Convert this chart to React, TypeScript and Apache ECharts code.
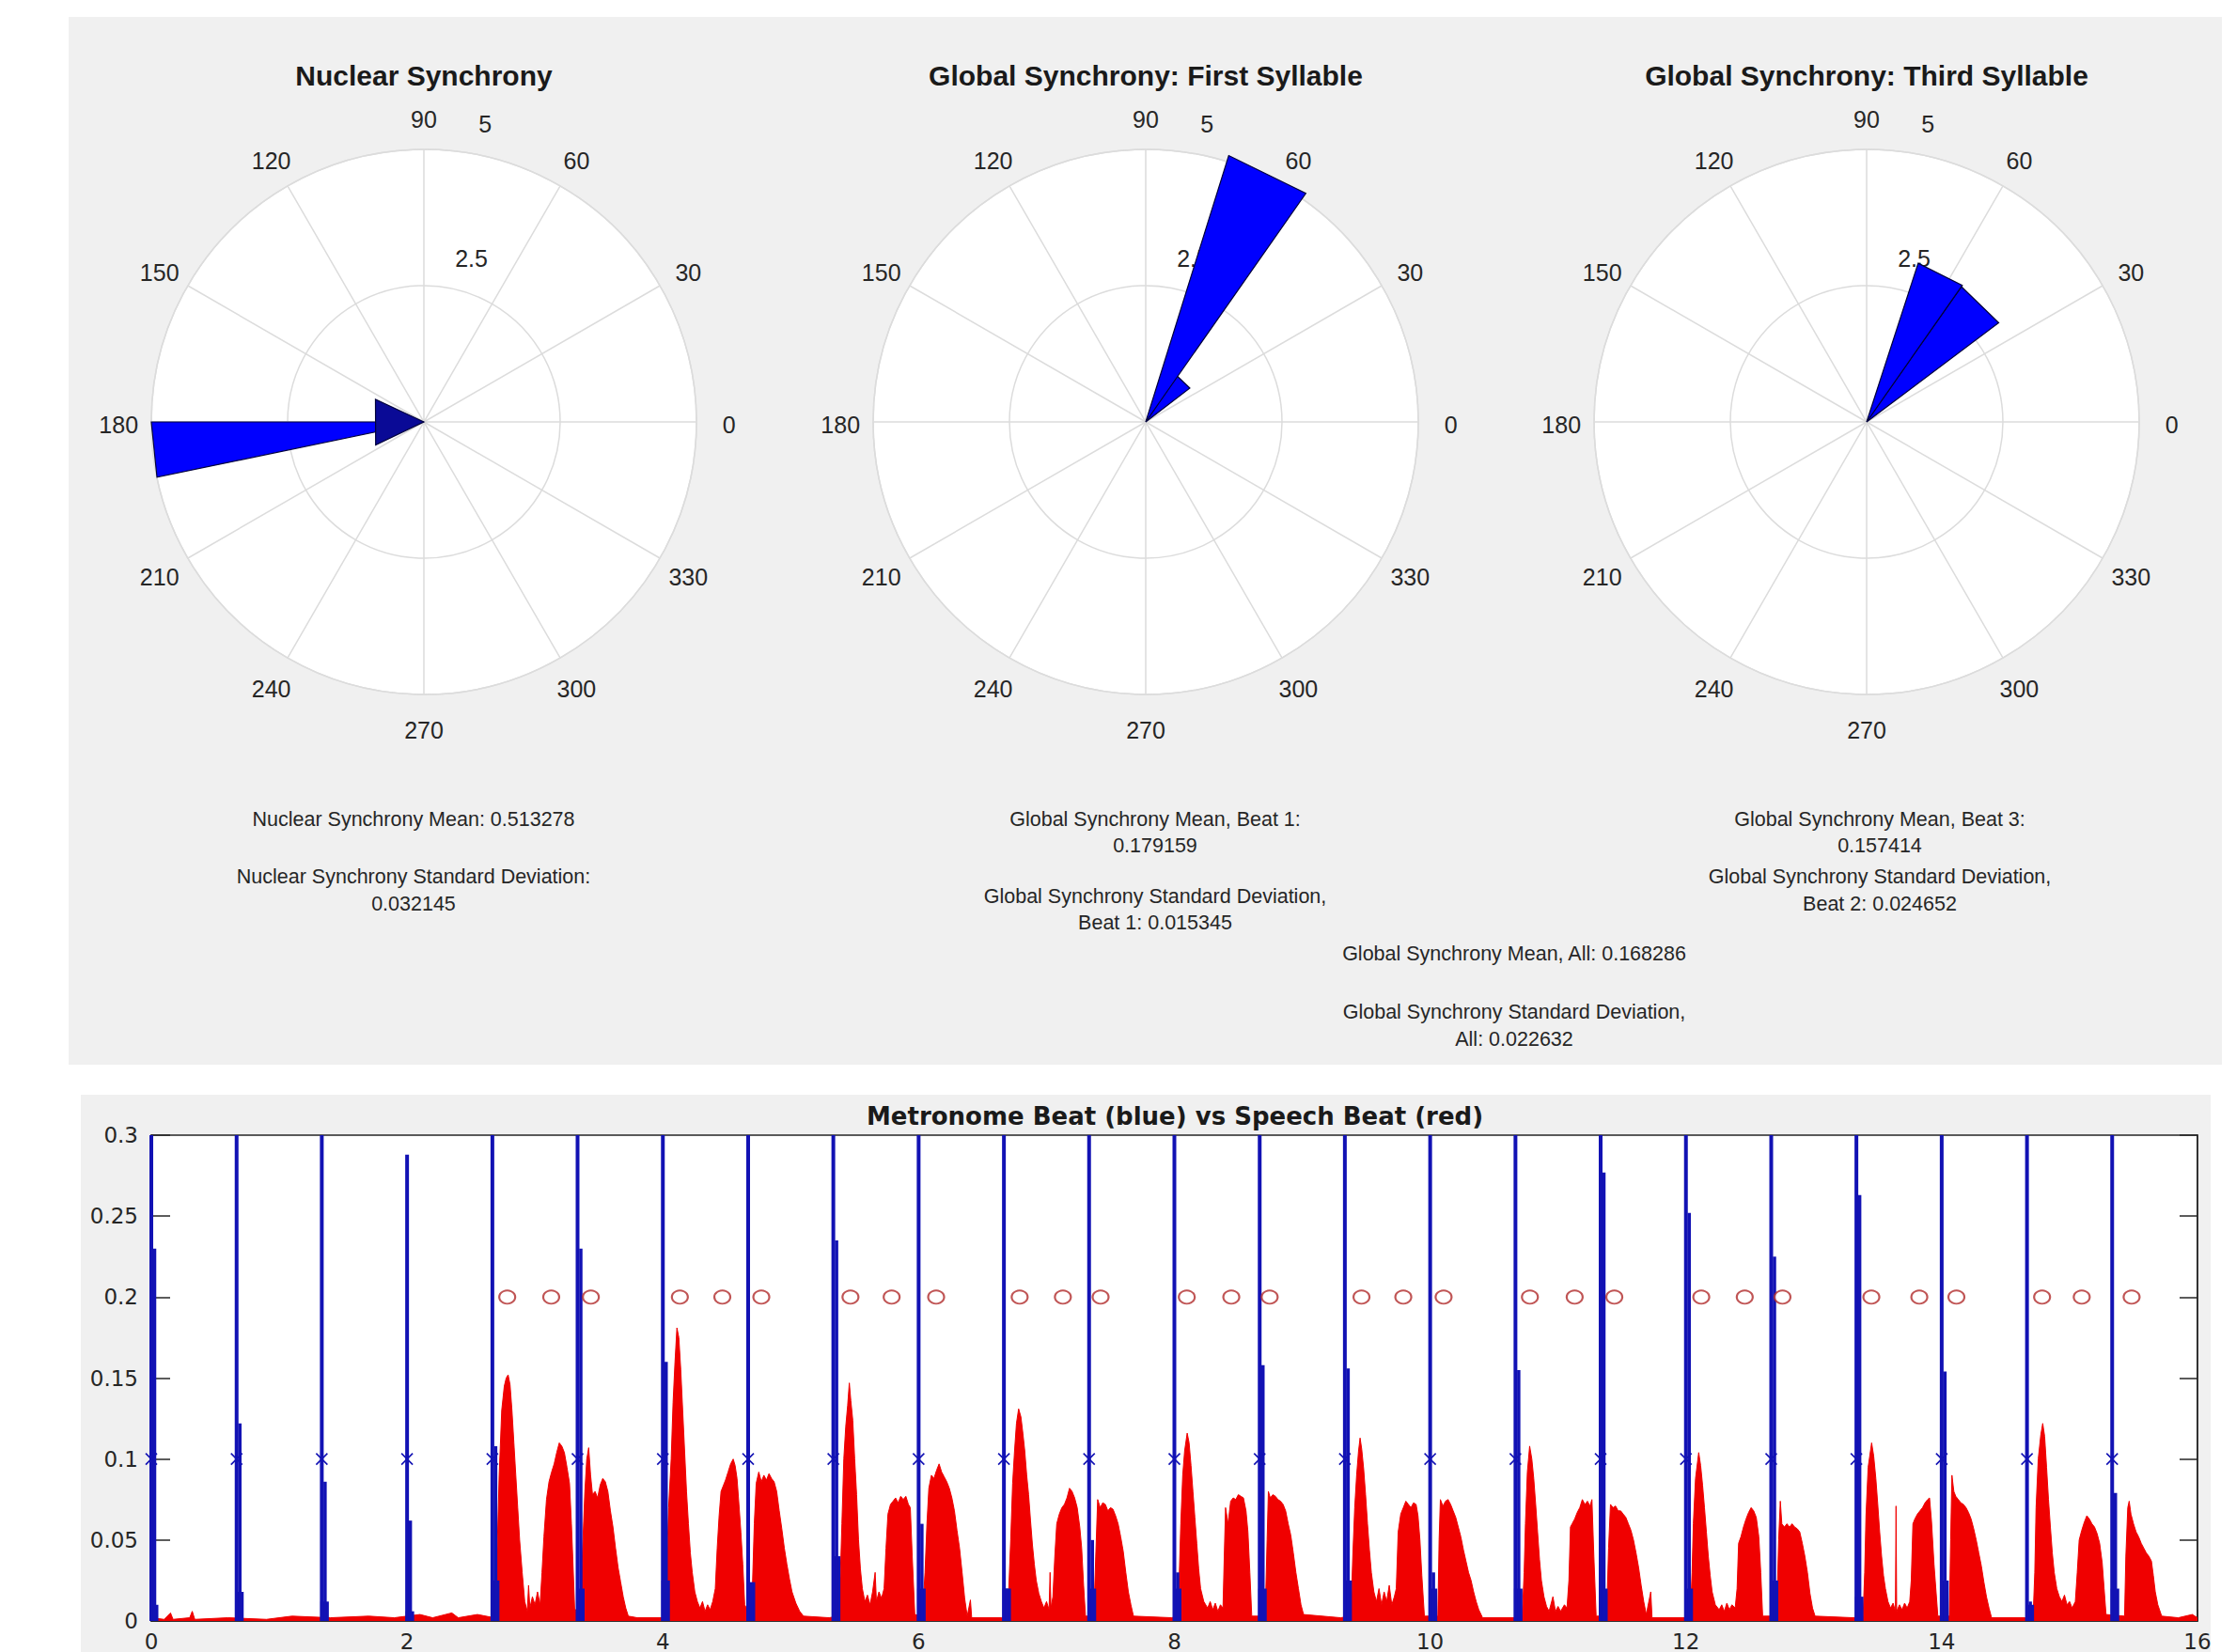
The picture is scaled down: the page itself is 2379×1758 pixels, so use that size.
import React, { useEffect, useRef } from "react";
import * as echarts from "echarts";

// ---------- Top panel: rose plots ----------
const angleTicks = [0, 30, 60, 90, 120, 150, 180, 210, 240, 270, 300, 330];
const radiusTicks = [2.5, 5];
const roseTitles = [
  "Nuclear Synchrony",
  "Global Synchrony: First Syllable",
  "Global Synchrony: Third Syllable",
];
// each bin: [radius, startAngle, endAngle]
const nuclearBins = [[5.0, 180, 191.7]];
const nuclearCoreBins = [[0.98, 155, 205.5]];
const firstSyllableBins = [
  [1.02, 37.5, 55.5],
  [5.12, 55, 72.7],
];
const thirdSyllableBins = [
  [3.03, 36.9, 55],
  [3.06, 55, 72],
];

const nuclearStats = [
  "Nuclear Synchrony Mean: 0.513278",
  "Nuclear Synchrony Standard Deviation:",
  "0.032145",
];
const firstSyllableStats = [
  "Global Synchrony Mean, Beat 1:",
  "0.179159",
  "Global Synchrony Standard Deviation,",
  "Beat 1: 0.015345",
];
const thirdSyllableStats = [
  "Global Synchrony Mean, Beat 3:",
  "0.157414",
  "Global Synchrony Standard Deviation,",
  "Beat 2: 0.024652",
];
const overallStats = [
  "Global Synchrony Mean, All: 0.168286",
  "Global Synchrony Standard Deviation,",
  "All: 0.022632",
];

// ---------- Bottom panel: metronome vs speech ----------
const chartTitle = "Metronome Beat (blue) vs Speech Beat (red)";
const beatTimes = [
  0, 0.667, 1.333, 2, 2.667, 3.333, 4, 4.667, 5.333, 6, 6.667, 7.333, 8,
  8.667, 9.333, 10, 10.667, 11.333, 12, 12.667, 13.333, 14, 14.667, 15.333,
];
const beatPeaks = [
  0.3, 0.3, 0.3, 0.288, 0.3, 0.3, 0.3, 0.3, 0.3, 0.3, 0.3, 0.3, 0.3, 0.3,
  0.3, 0.3, 0.3, 0.3, 0.3, 0.3, 0.3, 0.3, 0.3, 0.3,
];
const beatEchoes = [
  0.23, 0.122, 0.086, 0.062, 0.108, 0.23, 0.16, 0.023, 0.235, 0.06, 0.02,
  0.05, 0.03, 0.158, 0.156, 0.03, 0.155, 0.277, 0.252, 0.225, 0.263, 0.154,
  0.012, 0.079,
];
const beatBases = [
  0.01, 0.018, 0.012, 0.006, 0.025, 0.02, 0.025, 0.024, 0.04, 0.02, 0.02,
  0.02, 0.02, 0.02, 0.025, 0.02, 0.02, 0.02, 0.02, 0.025, 0.015, 0.025, 0.01,
  0.02,
];
const beatMarkerLevel = 0.1;
const syllableTimes = [
  2.783, 3.127, 3.437, 4.133, 4.465, 4.77, 5.467, 5.789, 6.137, 6.79, 7.128,
  7.423, 8.097, 8.445, 8.745, 9.463, 9.79, 10.105, 10.78, 11.13, 11.44, 12.12,
  12.46, 12.755, 13.45, 13.825, 14.115, 14.785, 15.095, 15.485,
];
const syllableMarkerLevel = 0.2;

const leadIn = [
  [0, 0.002], [0.1, 0.001], [0.15, 0.005], [0.17, 0.001], [0.3, 0.002],
  [0.32, 0.006], [0.34, 0.001], [0.6, 0.002], [0.9, 0.001], [1.1, 0.003],
  [1.4, 0.002], [1.7, 0.003], [1.9, 0.002], [2.1, 0.004], [2.2, 0.002],
  [2.35, 0.005], [2.4, 0.002], [2.55, 0.004], [2.68, 0.002],
];
const phrase1 = [
  [2.69, 0.003], [2.7, 0.03], [2.72, 0.09], [2.74, 0.13], [2.76, 0.145],
  [2.775, 0.15], [2.79, 0.152], [2.805, 0.146], [2.82, 0.13], [2.835, 0.11],
  [2.85, 0.09], [2.865, 0.07], [2.88, 0.05], [2.9, 0.03], [2.92, 0.012],
  [2.94, 0.006], [2.95, 0.022], [2.96, 0.008], [2.98, 0.015], [3.0, 0.01],
  [3.02, 0.018], [3.04, 0.01], [3.055, 0.03], [3.07, 0.052], [3.09, 0.075],
  [3.11, 0.086], [3.13, 0.092], [3.15, 0.097], [3.17, 0.104], [3.19, 0.11],
  [3.21, 0.108], [3.23, 0.104], [3.25, 0.095], [3.27, 0.085], [3.285, 0.06],
  [3.295, 0.04], [3.31, 0.008], [3.34, 0.003], [3.36, 0.02], [3.375, 0.05],
  [3.39, 0.08], [3.405, 0.1], [3.42, 0.107], [3.435, 0.09], [3.45, 0.078],
  [3.47, 0.08], [3.49, 0.076], [3.51, 0.084], [3.53, 0.088], [3.55, 0.086],
  [3.57, 0.08], [3.59, 0.068], [3.61, 0.058], [3.63, 0.045], [3.65, 0.033],
  [3.67, 0.024], [3.69, 0.015], [3.71, 0.008], [3.73, 0.003], [3.8, 0.002],
  [4.0, 0.002],
];
const phrase2 = [
  [4.01, 0.003], [4.025, 0.02], [4.045, 0.07], [4.065, 0.1], [4.08, 0.135],
  [4.095, 0.16], [4.11, 0.181], [4.125, 0.175], [4.14, 0.155], [4.155, 0.13],
  [4.17, 0.105], [4.185, 0.08], [4.2, 0.06], [4.215, 0.042], [4.23, 0.03],
  [4.25, 0.018], [4.27, 0.012], [4.29, 0.008], [4.31, 0.012], [4.33, 0.006],
  [4.35, 0.01], [4.37, 0.007], [4.39, 0.012], [4.41, 0.02], [4.425, 0.045],
  [4.44, 0.065], [4.455, 0.08], [4.47, 0.083], [4.49, 0.087], [4.51, 0.092],
  [4.53, 0.097], [4.55, 0.1], [4.565, 0.096], [4.58, 0.088], [4.595, 0.072],
  [4.61, 0.055], [4.625, 0.035], [4.64, 0.01], [4.68, 0.004], [4.7, 0.02],
  [4.715, 0.06], [4.73, 0.085], [4.75, 0.092], [4.77, 0.086], [4.79, 0.09],
  [4.81, 0.087], [4.83, 0.091], [4.85, 0.088], [4.87, 0.086], [4.89, 0.08],
  [4.91, 0.068], [4.93, 0.057], [4.95, 0.045], [4.97, 0.035], [4.99, 0.026],
  [5.01, 0.018], [5.04, 0.011], [5.07, 0.006], [5.1, 0.003], [5.3, 0.002],
];
const phrase3 = [
  [5.37, 0.003], [5.385, 0.02], [5.4, 0.06], [5.415, 0.1], [5.43, 0.12],
  [5.445, 0.133], [5.458, 0.147], [5.47, 0.136], [5.485, 0.124], [5.5, 0.1],
  [5.515, 0.078], [5.53, 0.05], [5.545, 0.032], [5.56, 0.02], [5.58, 0.012],
  [5.6, 0.016], [5.62, 0.01], [5.64, 0.018], [5.66, 0.03], [5.67, 0.012],
  [5.69, 0.018], [5.71, 0.014], [5.73, 0.02], [5.745, 0.045], [5.76, 0.066],
  [5.78, 0.072], [5.8, 0.074], [5.82, 0.076], [5.84, 0.073], [5.86, 0.077],
  [5.88, 0.075], [5.9, 0.077], [5.92, 0.072], [5.935, 0.07], [5.95, 0.04],
  [5.97, 0.004], [6.03, 0.003], [6.05, 0.03], [6.065, 0.06], [6.08, 0.082],
  [6.1, 0.09], [6.12, 0.088], [6.14, 0.093], [6.16, 0.097], [6.18, 0.092],
  [6.2, 0.089], [6.22, 0.086], [6.24, 0.082], [6.26, 0.076], [6.28, 0.068],
  [6.3, 0.056], [6.32, 0.045], [6.34, 0.03], [6.36, 0.014], [6.38, 0.003],
  [6.405, 0.013], [6.415, 0.002], [6.65, 0.002],
];
const phrase4 = [
  [6.69, 0.003], [6.705, 0.02], [6.72, 0.05], [6.735, 0.085], [6.75, 0.105],
  [6.765, 0.122], [6.782, 0.131], [6.8, 0.126], [6.815, 0.116], [6.83, 0.105],
  [6.845, 0.09], [6.86, 0.078], [6.875, 0.062], [6.89, 0.047], [6.905, 0.035],
  [6.92, 0.025], [6.94, 0.017], [6.96, 0.012], [6.98, 0.008], [7.0, 0.012],
  [7.02, 0.007], [7.028, 0.03], [7.035, 0.008], [7.05, 0.015], [7.065, 0.04],
  [7.08, 0.06], [7.1, 0.066], [7.12, 0.07], [7.14, 0.072], [7.16, 0.076],
  [7.18, 0.082], [7.2, 0.08], [7.22, 0.076], [7.24, 0.07], [7.26, 0.058],
  [7.275, 0.045], [7.29, 0.022], [7.305, 0.003], [7.37, 0.003], [7.385, 0.04],
  [7.4, 0.075], [7.42, 0.07], [7.44, 0.073], [7.46, 0.072], [7.48, 0.068],
  [7.5, 0.07], [7.52, 0.069], [7.54, 0.065], [7.56, 0.06], [7.58, 0.052],
  [7.6, 0.043], [7.62, 0.03], [7.64, 0.018], [7.66, 0.01], [7.68, 0.003],
  [7.98, 0.002],
];
const phrase5 = [
  [8.02, 0.003], [8.035, 0.02], [8.05, 0.06], [8.065, 0.09], [8.08, 0.105],
  [8.1, 0.116], [8.115, 0.11], [8.13, 0.096], [8.145, 0.08], [8.16, 0.064],
  [8.175, 0.048], [8.19, 0.032], [8.205, 0.02], [8.23, 0.012], [8.26, 0.008],
  [8.28, 0.012], [8.3, 0.007], [8.32, 0.011], [8.34, 0.006], [8.36, 0.01],
  [8.38, 0.008], [8.39, 0.04], [8.4, 0.07], [8.42, 0.06], [8.44, 0.074],
  [8.46, 0.076], [8.48, 0.075], [8.5, 0.078], [8.52, 0.077], [8.54, 0.076],
  [8.56, 0.068], [8.575, 0.055], [8.59, 0.03], [8.605, 0.003], [8.71, 0.003],
  [8.725, 0.05], [8.735, 0.08], [8.75, 0.076], [8.77, 0.078], [8.79, 0.077],
  [8.81, 0.075], [8.83, 0.074], [8.85, 0.072], [8.87, 0.068], [8.89, 0.06],
  [8.91, 0.053], [8.93, 0.042], [8.95, 0.03], [8.97, 0.02], [8.99, 0.01],
  [9.01, 0.004], [9.3, 0.002],
];
const phrase6 = [
  [9.38, 0.003], [9.395, 0.04], [9.41, 0.07], [9.425, 0.09], [9.44, 0.105],
  [9.452, 0.113], [9.465, 0.106], [9.48, 0.094], [9.495, 0.078], [9.51, 0.06],
  [9.525, 0.044], [9.54, 0.03], [9.56, 0.018], [9.58, 0.012], [9.6, 0.02],
  [9.62, 0.01], [9.64, 0.018], [9.66, 0.012], [9.68, 0.022], [9.7, 0.01],
  [9.72, 0.015], [9.735, 0.02], [9.75, 0.055], [9.77, 0.066], [9.79, 0.07],
  [9.81, 0.074], [9.83, 0.072], [9.85, 0.07], [9.87, 0.073], [9.89, 0.072],
  [9.905, 0.065], [9.92, 0.05], [9.935, 0.028], [9.955, 0.003], [10.06, 0.003],
  [10.07, 0.05], [10.08, 0.075], [10.1, 0.071], [10.12, 0.074], [10.14, 0.075],
  [10.16, 0.072], [10.18, 0.068], [10.2, 0.064], [10.22, 0.058], [10.24, 0.052],
  [10.26, 0.044], [10.28, 0.037], [10.3, 0.03], [10.32, 0.025], [10.34, 0.018],
  [10.36, 0.012], [10.38, 0.007], [10.41, 0.002], [10.65, 0.002],
];
const phrase7 = [
  [10.72, 0.003], [10.735, 0.03], [10.745, 0.06], [10.76, 0.092],
  [10.778, 0.108], [10.795, 0.1], [10.81, 0.088], [10.825, 0.072],
  [10.84, 0.055], [10.855, 0.038], [10.87, 0.025], [10.89, 0.015],
  [10.91, 0.009], [10.93, 0.006], [10.96, 0.015], [10.98, 0.006], [11.0, 0.009],
  [11.02, 0.006], [11.05, 0.01], [11.07, 0.008], [11.085, 0.025],
  [11.097, 0.058], [11.11, 0.06], [11.13, 0.063], [11.15, 0.067], [11.17, 0.07],
  [11.19, 0.075], [11.21, 0.072], [11.23, 0.074], [11.25, 0.071],
  [11.265, 0.075], [11.28, 0.04], [11.298, 0.003], [11.38, 0.003],
  [11.395, 0.045], [11.41, 0.072], [11.43, 0.07], [11.45, 0.071], [11.47, 0.068],
  [11.49, 0.068], [11.51, 0.066], [11.53, 0.064], [11.55, 0.06], [11.57, 0.056],
  [11.59, 0.05], [11.61, 0.042], [11.63, 0.033], [11.65, 0.022], [11.67, 0.012],
  [11.69, 0.004], [11.725, 0.018], [11.735, 0.002], [11.98, 0.002],
];
const phrase8 = [
  [12.035, 0.003], [12.048, 0.03], [12.058, 0.06], [12.075, 0.088],
  [12.1, 0.104], [12.115, 0.096], [12.13, 0.084], [12.145, 0.07],
  [12.16, 0.055], [12.175, 0.04], [12.19, 0.028], [12.205, 0.018],
  [12.23, 0.01], [12.26, 0.007], [12.28, 0.01], [12.3, 0.006], [12.32, 0.011],
  [12.34, 0.007], [12.36, 0.01], [12.385, 0.008], [12.4, 0.02], [12.412, 0.048],
  [12.43, 0.052], [12.45, 0.058], [12.47, 0.063], [12.49, 0.067], [12.51, 0.07],
  [12.53, 0.068], [12.55, 0.064], [12.57, 0.052], [12.585, 0.03], [12.6, 0.003],
  [12.71, 0.003], [12.725, 0.05], [12.738, 0.074], [12.75, 0.06], [12.77, 0.058],
  [12.79, 0.06], [12.81, 0.058], [12.83, 0.06], [12.85, 0.058], [12.87, 0.057],
  [12.89, 0.055], [12.91, 0.048], [12.93, 0.04], [12.95, 0.03], [12.97, 0.017],
  [12.99, 0.008], [13.01, 0.003], [13.31, 0.002],
];
const phrase9 = [
  [13.385, 0.003], [13.398, 0.03], [13.408, 0.065], [13.425, 0.095],
  [13.452, 0.11], [13.468, 0.102], [13.485, 0.088], [13.5, 0.072],
  [13.515, 0.055], [13.53, 0.04], [13.545, 0.028], [13.56, 0.02],
  [13.58, 0.012], [13.6, 0.008], [13.62, 0.011], [13.638, 0.006],
  [13.643, 0.071], [13.648, 0.006], [13.67, 0.01], [13.69, 0.007],
  [13.71, 0.011], [13.73, 0.008], [13.75, 0.012], [13.762, 0.025],
  [13.775, 0.06], [13.79, 0.063], [13.81, 0.066], [13.83, 0.068], [13.85, 0.07],
  [13.87, 0.073], [13.89, 0.075], [13.905, 0.076], [13.92, 0.062],
  [13.94, 0.035], [13.97, 0.003], [14.06, 0.003], [14.07, 0.05], [14.08, 0.09],
  [14.095, 0.08], [14.11, 0.077], [14.13, 0.075], [14.15, 0.073], [14.17, 0.072],
  [14.19, 0.07], [14.21, 0.067], [14.23, 0.063], [14.25, 0.057], [14.27, 0.05],
  [14.29, 0.042], [14.31, 0.034], [14.33, 0.024], [14.35, 0.015], [14.37, 0.008],
  [14.39, 0.002], [14.65, 0.002],
];
const phrase10 = [
  [14.715, 0.003], [14.728, 0.03], [14.738, 0.07], [14.755, 0.1],
  [14.775, 0.115], [14.79, 0.122], [14.805, 0.114], [14.82, 0.095],
  [14.835, 0.075], [14.85, 0.058], [14.865, 0.042], [14.88, 0.03], [14.9, 0.02],
  [14.92, 0.015], [14.94, 0.012], [14.96, 0.016], [14.98, 0.01], [15.0, 0.012],
  [15.02, 0.008], [15.045, 0.012], [15.06, 0.03], [15.075, 0.05],
  [15.095, 0.056], [15.115, 0.061], [15.135, 0.065], [15.155, 0.063],
  [15.175, 0.06], [15.195, 0.058], [15.215, 0.054], [15.235, 0.048],
  [15.255, 0.036], [15.27, 0.02], [15.285, 0.004], [15.43, 0.003], [15.44, 0.04],
  [15.455, 0.07], [15.466, 0.074], [15.48, 0.066], [15.5, 0.06], [15.52, 0.055],
  [15.54, 0.052], [15.56, 0.048], [15.58, 0.045], [15.6, 0.042], [15.62, 0.04],
  [15.64, 0.037], [15.655, 0.028], [15.67, 0.018], [15.69, 0.01], [15.72, 0.003],
  [15.85, 0.002], [15.96, 0.004], [16.0, 0.002],
];

// ---------- Layout / style ----------
const W = 2379;
const H = 1758;
const TOP_FONT = "'Liberation Sans', Arial, sans-serif";
const BOTTOM_FONT = "'DejaVu Sans', Verdana, sans-serif";
const TEXT = "#262626";
const BLUE = "#1212b4";
const RED = "#f00000";
const GRIDLINE = "#dcdcdc";
const polarCenters = [
  [451, 449],
  [1219, 449],
  [1986, 449],
];
const polarRadius = 290;
const statBlocks = [
  { lines: nuclearStats, x: 440, ys: [872, 933, 962] },
  { lines: firstSyllableStats, x: 1229, ys: [872, 900, 954, 982] },
  { lines: thirdSyllableStats, x: 2000, ys: [872, 900, 933, 962] },
  { lines: overallStats, x: 1611, ys: [1015, 1077, 1106] },
];

function textStyle(text: string, extra: any) {
  return {
    text,
    fill: TEXT,
    align: "center",
    verticalAlign: "middle",
    textAlign: "center",
    textVerticalAlign: "middle",
    ...extra,
  };
}

function buildOption() {
  const speechEnvelope = [
    ...leadIn, ...phrase1, ...phrase2, ...phrase3, ...phrase4,
    ...phrase5, ...phrase6, ...phrase7, ...phrase8, ...phrase9, ...phrase10,
  ];

  const roseSets = [nuclearBins, firstSyllableBins, thirdSyllableBins];

  const roseRender = (fill: string) => (params: any, api: any) => {
    const r = api.value(0);
    const a1 = api.value(1);
    const a2 = api.value(2);
    const c = api.coord([0, a1]);
    const p1 = api.coord([r, a1]);
    const p2 = api.coord([r, a2]);
    return {
      type: "polygon",
      shape: { points: [c, p1, p2] },
      style: { fill, stroke: "#00003a", lineWidth: 1.2 },
    };
  };

  const angleLabelRender = (params: any, api: any) => {
    const a = api.value(0);
    const p = api.coord([5.6, a]);
    return {
      type: "text",
      x: p[0],
      y: p[1] + 3,
      style: textStyle(String(a), { fontSize: 25, fontFamily: TOP_FONT }),
    };
  };

  const radiusLabelRender = (params: any, api: any) => {
    const v = api.value(0);
    const p = api.coord([v, 80]);
    return {
      type: "text",
      x: p[0] + 8,
      y: p[1] - 31,
      style: textStyle(String(v), {
        fontSize: 25,
        fontFamily: TOP_FONT,
        align: "left",
        textAlign: "left",
      }),
    };
  };

  const polarSeries: any[] = [];
  polarCenters.forEach((_, i) => {
    polarSeries.push({
      type: "custom",
      coordinateSystem: "polar",
      polarIndex: i,
      z: 1,
      silent: true,
      data: angleTicks,
      renderItem: angleLabelRender,
    });
    polarSeries.push({
      type: "custom",
      coordinateSystem: "polar",
      polarIndex: i,
      z: 1,
      silent: true,
      data: radiusTicks,
      renderItem: radiusLabelRender,
    });
    polarSeries.push({
      type: "custom",
      coordinateSystem: "polar",
      polarIndex: i,
      z: 3,
      data: roseSets[i],
      renderItem: roseRender("#0000ff"),
    });
  });
  polarSeries.push({
    type: "custom",
    coordinateSystem: "polar",
    polarIndex: 0,
    z: 4,
    data: nuclearCoreBins,
    renderItem: roseRender("#0a0a96"),
  });

  const beatData = beatTimes.map((t, i) => [t, beatPeaks[i], beatEchoes[i], beatBases[i]]);

  const beatRender = (params: any, api: any) => {
    const t = api.value(0);
    const b = api.coord([t, 0]);
    const top = api.coord([t, api.value(1)]);
    const echo = api.coord([t, api.value(2)]);
    const base = api.coord([t, api.value(3)]);
    return {
      type: "group",
      children: [
        {
          type: "rect",
          shape: { x: b[0] - 1.5, y: base[1], width: 9, height: b[1] - base[1] },
          style: { fill: BLUE },
        },
        {
          type: "line",
          shape: { x1: b[0], y1: b[1], x2: top[0], y2: top[1] },
          style: { stroke: BLUE, lineWidth: 4 },
        },
        {
          type: "line",
          shape: { x1: b[0] + 3.5, y1: b[1], x2: echo[0] + 3.5, y2: echo[1] },
          style: { stroke: BLUE, lineWidth: 3.5 },
        },
      ],
    };
  };

  const crossRender = (params: any, api: any) => {
    const p = api.coord([api.value(0), api.value(1)]);
    const s = 6;
    return {
      type: "group",
      children: [
        { type: "line", shape: { x1: p[0] - s, y1: p[1] - s, x2: p[0] + s, y2: p[1] + s }, style: { stroke: BLUE, lineWidth: 1.6 } },
        { type: "line", shape: { x1: p[0] - s, y1: p[1] + s, x2: p[0] + s, y2: p[1] - s }, style: { stroke: BLUE, lineWidth: 1.6 } },
      ],
    };
  };

  const graphicElements: any[] = [
    { type: "rect", z: -100, shape: { x: 73, y: 18, width: 2291, height: 1115 }, style: { fill: "#f0f0f0" } },
    { type: "rect", z: -100, shape: { x: 86, y: 1165, width: 2266, height: 593 }, style: { fill: "#f0f0f0" } },
    ...polarCenters.map((c) => ({
      type: "circle",
      z: -90,
      shape: { cx: c[0], cy: c[1], r: polarRadius },
      style: { fill: "#ffffff" },
    })),
  ];
  statBlocks.forEach((blk) => {
    blk.lines.forEach((line, j) => {
      graphicElements.push({
        type: "text",
        z: 10,
        x: blk.x,
        y: blk.ys[j],
        style: textStyle(line, { fontSize: 21.5, fontFamily: TOP_FONT }),
      });
    });
  });

  const axisLabelStyle = { color: TEXT, fontSize: 23, fontFamily: BOTTOM_FONT };

  return {
    animation: false,
    backgroundColor: "#ffffff",
    title: [
      ...roseTitles.map((t, i) => ({
        text: t,
        left: polarCenters[i][0],
        top: 65,
        textAlign: "center",
        padding: 0,
        textStyle: { fontFamily: TOP_FONT, fontSize: 30, fontWeight: "bold", color: "#1a1a1a" },
      })),
      {
        text: chartTitle,
        left: 1250,
        top: 1175,
        textAlign: "center",
        padding: 0,
        textStyle: { fontFamily: BOTTOM_FONT, fontSize: 26, fontWeight: "bold", color: "#1a1a1a" },
      },
    ],
    graphic: { elements: graphicElements },
    polar: polarCenters.map((c) => ({ center: c, radius: polarRadius })),
    angleAxis: polarCenters.map((_, i) => ({
      polarIndex: i,
      type: "value",
      min: 0,
      max: 360,
      interval: 30,
      startAngle: 0,
      clockwise: false,
      z: 1,
      axisLine: { show: true, lineStyle: { color: GRIDLINE, width: 1.5 } },
      axisTick: { show: false },
      axisLabel: { show: false },
      splitLine: { show: true, lineStyle: { color: GRIDLINE, width: 1.5 } },
      splitArea: { show: false },
    })),
    radiusAxis: polarCenters.map((_, i) => ({
      polarIndex: i,
      type: "value",
      min: 0,
      max: 5,
      interval: 2.5,
      z: 1,
      axisLine: { show: false },
      axisTick: { show: false },
      axisLabel: { show: false },
      splitLine: { show: true, lineStyle: { color: GRIDLINE, width: 1.5 } },
    })),
    grid: {
      left: 161,
      top: 1208,
      width: 2177,
      height: 519,
      show: true,
      backgroundColor: "#ffffff",
      borderColor: "#262626",
      borderWidth: 1.5,
    },
    xAxis: {
      type: "value",
      min: 0,
      max: 16,
      interval: 2,
      axisLine: { show: true, lineStyle: { color: "#262626", width: 1.5 } },
      axisTick: { show: true, inside: true, length: 12, lineStyle: { color: "#262626" } },
      axisLabel: { margin: 10, ...axisLabelStyle },
      splitLine: { show: false },
    },
    yAxis: [
      {
        type: "value",
        min: 0,
        max: 0.3,
        interval: 0.05,
        axisLine: { show: true, lineStyle: { color: "#262626", width: 1.5 } },
        axisTick: { show: true, inside: true, length: 20, lineStyle: { color: "#262626", width: 1.5 } },
        axisLabel: { margin: 14, ...axisLabelStyle },
        splitLine: { show: false },
      },
      {
        type: "value",
        position: "right",
        min: 0,
        max: 0.3,
        interval: 0.05,
        axisLine: { show: true, lineStyle: { color: "#262626", width: 1.5 } },
        axisTick: { show: true, inside: true, length: 19, lineStyle: { color: "#262626", width: 1.5 } },
        axisLabel: { show: false },
        splitLine: { show: false },
      },
    ],
    series: [
      ...polarSeries,
      {
        type: "line",
        xAxisIndex: 0,
        yAxisIndex: 0,
        data: speechEnvelope,
        showSymbol: false,
        symbol: "none",
        z: 2,
        silent: true,
        lineStyle: { color: RED, width: 1 },
        areaStyle: { color: RED, opacity: 1 },
      },
      {
        type: "custom",
        xAxisIndex: 0,
        yAxisIndex: 0,
        z: 3,
        silent: true,
        data: beatData,
        renderItem: beatRender,
      },
      {
        type: "custom",
        xAxisIndex: 0,
        yAxisIndex: 0,
        z: 4,
        silent: true,
        data: beatTimes.map((t) => [t, beatMarkerLevel]),
        renderItem: crossRender,
      },
      {
        type: "scatter",
        xAxisIndex: 0,
        yAxisIndex: 0,
        z: 4,
        silent: true,
        symbol: "emptyCircle",
        symbolSize: [17, 14],
        data: syllableTimes.map((t) => [t, syllableMarkerLevel]),
        itemStyle: { color: "#b02a2a", borderColor: "#b02a2a", borderWidth: 1.6 },
      },
    ],
  };
}

export default function App() {
  const ref = useRef<HTMLDivElement | null>(null);
  useEffect(() => {
    if (!ref.current) return;
    const chart = echarts.init(ref.current, undefined, { renderer: "svg" });
    chart.setOption(buildOption() as any);
    return () => chart.dispose();
  }, []);
  return (
    <div
      ref={ref}
      style={{ position: "absolute", left: 0, top: 0, width: W, height: H }}
    />
  );
}
